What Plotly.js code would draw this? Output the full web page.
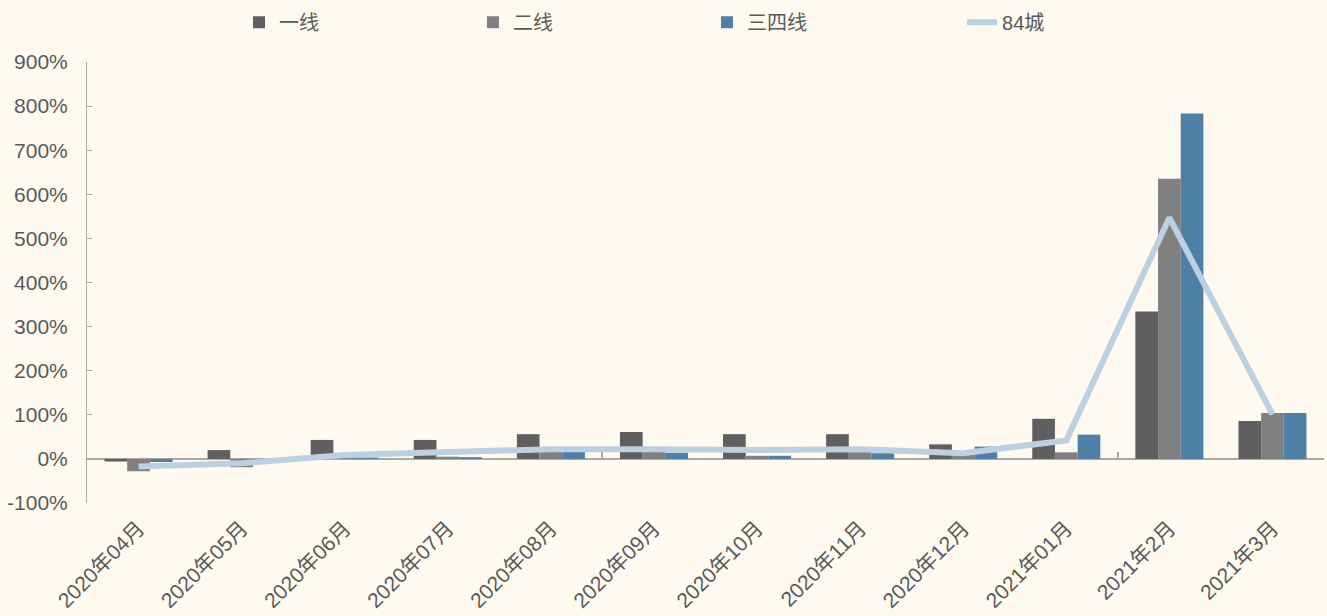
<!DOCTYPE html>
<html>
<head>
<meta charset="utf-8">
<script src="https://cdn.plot.ly/plotly-3.0.1.min.js"></script>
<style>html,body{margin:0;padding:0;background:#FFFAF0;}#chart{width:1327px;height:616px;}</style>
</head>
<body>
<div id="chart"></div>
<script>
var months = ["2020年04月","2020年05月","2020年06月","2020年07月","2020年08月","2020年09月","2020年10月","2020年11月","2020年12月","2021年01月","2021年2月","2021年3月"];
var tier1 = [-6, 20, 43, 43, 56, 61, 56, 56, 33, 91, 334, 86];
var tier2 = [-28, -19, 4, 5, 16, 16, 7, 16, 10, 15, 635, 104];
var tier34 = [-7, -2, 3, 4, 16, 14, 7, 13, 28, 55, 783, 104];
var city84 = [-17, -10, 9, 14, 22, 22, 20, 22, 13, 42, 547, 101];
var yTicks = [-100, 0, 100, 200, 300, 400, 500, 600, 700, 800, 900];

var xs = months.map(function(_, i){ return i; });
var font = "Liberation Sans, Arial, Noto Sans CJK SC, sans-serif";
var txt = "#595959";

var traces = [
  {type:"bar", name:"一线", x:xs, y:tier1, marker:{color:"#5F5F5F"}, legend:"legend"},
  {type:"bar", name:"二线", x:xs, y:tier2, marker:{color:"#808080"}, legend:"legend2"},
  {type:"bar", name:"三四线", x:xs, y:tier34, marker:{color:"#4E7FA5"}, legend:"legend3"},
  {type:"scatter", mode:"lines", name:"84城", x:xs, y:city84, line:{color:"#BCD0E1", width:6}, legend:"legend4"},
  {type:"scatter", mode:"markers", x:[-0.5, 11.5], y:[0,0], xaxis:"x2", showlegend:false, hoverinfo:"skip", marker:{opacity:0}}
];

function leg(x){
  return {orientation:"h", x:x, xanchor:"left", y:1.09, yanchor:"middle",
          font:{family:font, size:20, color:txt}, bgcolor:"rgba(0,0,0,0)"};
}

var layout = {
  width:1327, height:616,
  paper_bgcolor:"#FFFAF0", plot_bgcolor:"#FFFAF0",
  margin:{l:87, r:3, t:60, b:113},
  font:{family:font, color:txt, size:18},
  barmode:"group", bargap:0.34, bargroupgap:0,
  showlegend:true,
  legend:leg(0.1229), legend2:leg(0.312), legend3:leg(0.5012), legend4:leg(0.7074),
  xaxis:{range:[-0.5, 11.5], tickmode:"array", tickvals:xs, ticktext:months, tickangle:-45,
         showgrid:false, zeroline:false, showline:false, ticks:"", ticklabelstandoff:8,
         tickfont:{family:font, size:21, color:txt}},
  xaxis2:{range:[-0.5, 11.5], overlaying:"x", anchor:"free", position:0.1, side:"bottom",
          tickmode:"array", tickvals:[-0.5, 4.5, 9.5], showticklabels:false, ticks:"inside", ticklen:7, tickwidth:2,
          tickcolor:"#ADA8A3", showgrid:false, zeroline:false, showline:false},
  yaxis:{range:[-100, 900], tickmode:"array", tickvals:yTicks, ticktext:yTicks.map(function(v){return v+"%";}),
         showgrid:false, zeroline:true, zerolinecolor:"#ADA8A3", zerolinewidth:2,
         showline:true, linecolor:"#ADA8A3", linewidth:1, ticks:"inside", ticklen:5, tickcolor:"#ADA8A3",
         ticklabelstandoff:14, tickfont:{family:font, size:21, color:txt}}
};

Plotly.newPlot("chart", traces, layout, {displayModeBar:false, staticPlot:true});
</script>
</body>
</html>
